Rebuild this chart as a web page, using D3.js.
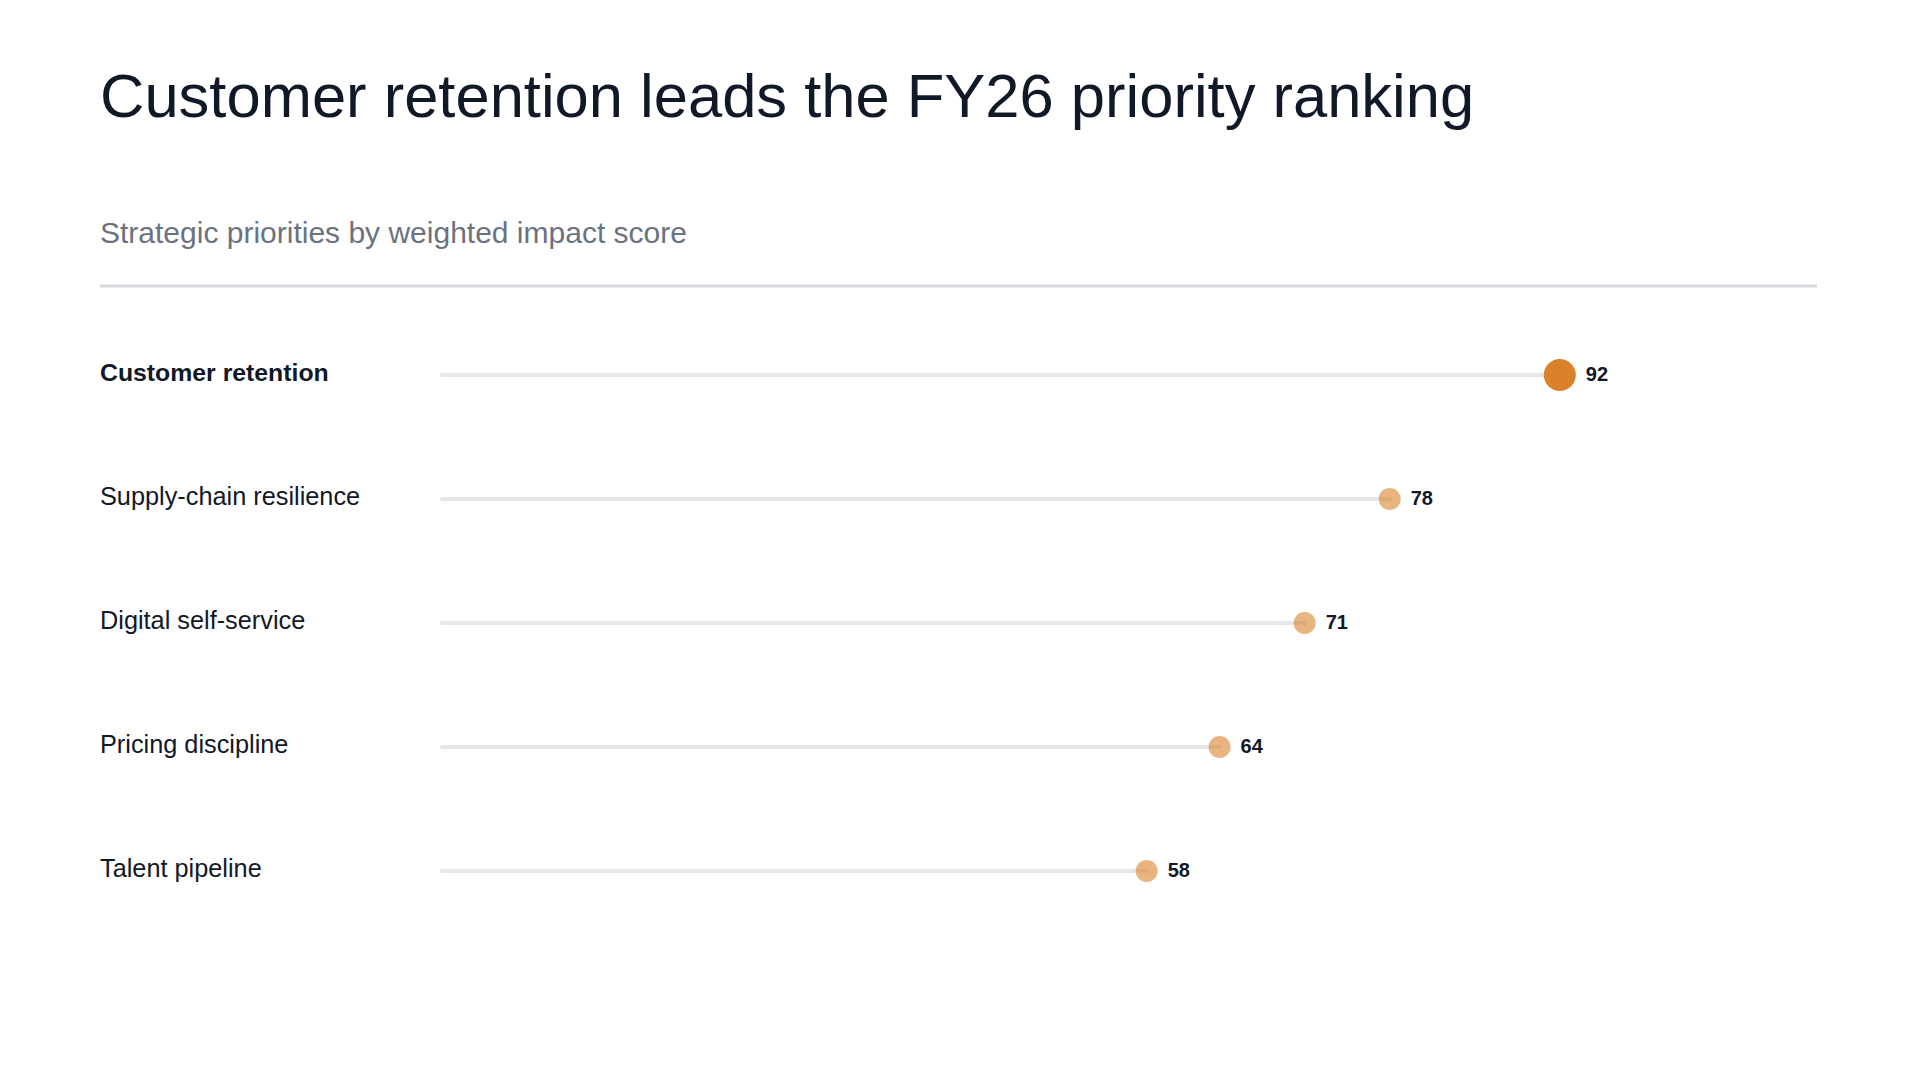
<!DOCTYPE html>
<html>
<head>
<meta charset="utf-8">
<script src="https://cdn.jsdelivr.net/npm/d3@7"></script>
<style>
  body { margin: 0; background: #ffffff; }
  svg { display: block; font-family: "Liberation Sans", Arial, Helvetica, sans-serif; }
</style>
</head>
<body>
<div id="chart"></div>
<script>
var priorities = [ "Customer retention", "Supply-chain resilience", "Digital self-service", "Pricing discipline", "Talent pipeline" ];
var scores = [ 92, 78, 71, 64, 58 ];
var highlight = "Customer retention";

var width = 1919;
var height = 1080;
var left = 100;
var right = 1817;

var data = priorities.map( function ( p, i ) {
    return { name: p, score: scores[ i ] };
} );

var svg = d3.select( "#chart" ).append( "svg" )
    .attr( "width", width )
    .attr( "height", height );

svg.append( "text" )
    .attr( "x", left )
    .attr( "y", 117 )
    .attr( "fill", "#111827" )
    .style( "font-size", "61.5px" )
    .text( "Customer retention leads the FY26 priority ranking" );

svg.append( "text" )
    .attr( "x", left )
    .attr( "y", 243 )
    .attr( "fill", "#6b7280" )
    .style( "font-size", "30px" )
    .text( "Strategic priorities by weighted impact score" );

svg.append( "line" )
    .attr( "x1", left )
    .attr( "x2", right )
    .attr( "y1", 286 )
    .attr( "y2", 286 )
    .attr( "stroke", "#d6d8dd" )
    .attr( "stroke-width", 3 );

// scales
var x = d3.scaleLinear()
    .domain( [ 0, 100 ] )
    .range( [ 442, 1657 ] );

var y = d3.scaleBand()
    .domain( priorities )
    .range( [ 313, 933 ] );

var rows = svg.append( "g" )
    .selectAll( "g" )
    .data( data )
    .enter().append( "g" )
    .attr( "transform", function ( d ) { return "translate(0," + ( y( d.name ) + y.bandwidth() / 2 ) + ")"; } );

rows.append( "text" )
    .attr( "x", left )
    .attr( "y", 6 )
    .attr( "fill", "#111827" )
    .style( "font-size", function ( d ) { return d.name === highlight ? "24.8px" : "25.3px"; } )
    .style( "font-weight", function ( d ) { return d.name === highlight ? 700 : 400; } )
    .text( function ( d ) { return d.name; } );

rows.append( "line" )
    .attr( "x1", x( 0 ) )
    .attr( "x2", function ( d ) { return x( d.score ); } )
    .attr( "stroke", "#e6e7eb" )
    .attr( "stroke-width", 4 )
    .attr( "stroke-linecap", "round" );

rows.append( "circle" )
    .attr( "cx", function ( d ) { return x( d.score ); } )
    .attr( "r", function ( d ) { return d.name === highlight ? 16 : 11; } )
    .attr( "fill", "#d9822b" )
    .attr( "fill-opacity", function ( d ) { return d.name === highlight ? 1 : 0.6; } );

rows.append( "text" )
    .attr( "x", function ( d ) { return x( d.score ) + ( d.name === highlight ? 16 : 11 ) + 10; } )
    .attr( "y", 6 )
    .attr( "fill", "#111827" )
    .style( "font-size", "20px" )
    .style( "font-weight", 700 )
    .text( function ( d ) { return d.score; } );
</script>
</body>
</html>
